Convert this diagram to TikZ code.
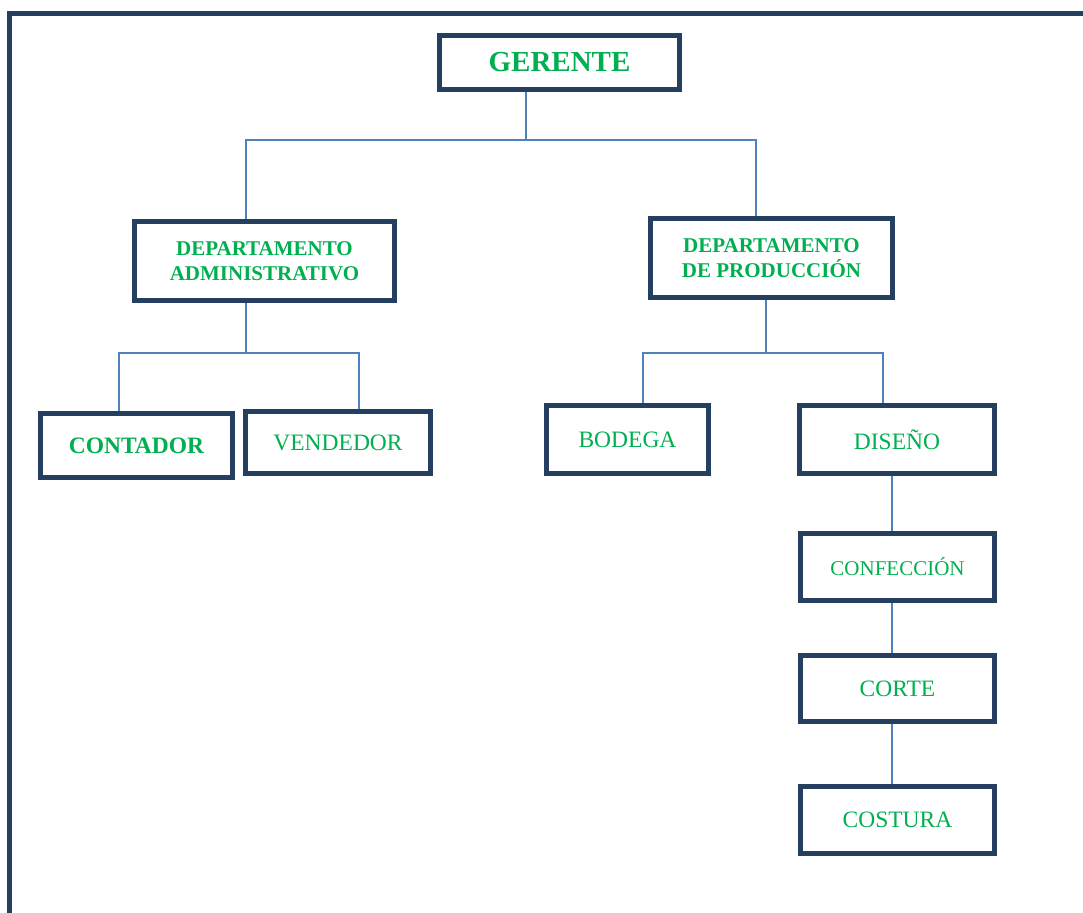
\documentclass[tikz,border=0pt]{standalone}
\usepackage{fontspec}
\setmainfont{Liberation Serif}
\definecolor{navy}{HTML}{243F60}
\definecolor{wgreen}{HTML}{00B050}
\definecolor{wblue}{HTML}{4F81BD}
\pgfdeclarelayer{bg}
\pgfsetlayers{bg,main}
\tikzset{
  box/.style={draw=navy, line width=5pt, fill=white, inner sep=0pt, align=center, text=wgreen},
  reg/.style={font=\fontsize{23.5}{28}\selectfont},
  bld/.style={font=\fontsize{23.5}{28}\selectfont\bfseries},
  dept/.style={font=\fontsize{21}{25}\selectfont\bfseries},
  conn/.style={draw=wblue, line width=2pt},
  frame/.style={draw=navy, line width=5pt}
}
\begin{document}
\begin{tikzpicture}[x=1pt,y=-1pt]
\useasboundingbox (0,0) rectangle (1083,912);
\draw[frame] (9.5,930) -- (9.5,13.5) -- (1100,13.5);

\node[box, minimum width=240pt, minimum height=54pt, font=\fontsize{29}{34}\selectfont\bfseries] (g) at (559.5,62.5) {GERENTE};
\node[box, dept, minimum width=260pt, minimum height=79pt] (da) at (264.5,261) {DEPARTAMENTO\\ADMINISTRATIVO};
\node[box, dept, minimum width=242pt, minimum height=79pt] (dp) at (771.5,258) {DEPARTAMENTO\\DE PRODUCCIÓN};
\node[box, bld, minimum width=192pt, minimum height=64pt] (ct) at (136.5,445.5) {CONTADOR};
\node[box, reg, minimum width=185pt, minimum height=62pt] (vd) at (338,442.5) {VENDEDOR};
\node[box, reg, minimum width=162pt, minimum height=68pt] (bd) at (627.5,439.5) {BODEGA};
\node[box, reg, minimum width=195pt, minimum height=68pt] (ds) at (897,439.5) {DISEÑO};
\node[box, minimum width=194pt, minimum height=67pt, font=\fontsize{21}{25}\selectfont] (cf) at (897.5,567) {CONFECCIÓN};
\node[box, reg, minimum width=194pt, minimum height=66pt] (co) at (897.5,688.5) {CORTE};
\node[box, reg, minimum width=194pt, minimum height=67pt] (cs) at (897.5,820) {COSTURA};

\coordinate (j1) at (526,140);
\coordinate (j1l) at (245.5,140);
\coordinate (j1r) at (756,140);
\coordinate (j2) at (246,352.5);
\coordinate (j2l) at (118.5,352.5);
\coordinate (j2r) at (359,352.5);
\coordinate (j3) at (765.5,352.5);
\coordinate (j3l) at (643,352.5);
\coordinate (j3r) at (883,352.5);
\coordinate (j4) at (892,470);

\begin{pgfonlayer}{bg}
\draw[conn] (g.south -| j1) -- (j1);
\draw[conn] (da.north -| j1l) -- (j1l) -- (j1r) -- (dp.north -| j1r);
\draw[conn] (da.south -| j2) -- (j2);
\draw[conn] (ct.north -| j2l) -- (j2l) -- (j2r) -- ([yshift=-4pt]vd.north -| j2r);
\draw[conn] (dp.south -| j3) -- (j3);
\draw[conn] (bd.north -| j3l) -- (j3l) -- (j3r) -- (ds.north -| j3r);
\draw[conn] (ds.south -| j4) -- (cf.north -| j4);
\draw[conn] (cf.south -| j4) -- (co.north -| j4);
\draw[conn] (co.south -| j4) -- (cs.north -| j4);
\end{pgfonlayer}
\end{tikzpicture}
\end{document}
